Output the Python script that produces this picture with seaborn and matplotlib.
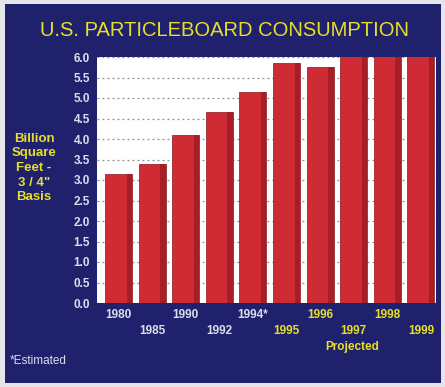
import matplotlib
matplotlib.use("Agg")
import matplotlib.pyplot as plt
import seaborn as sns
import numpy as np
import pandas as pd
from matplotlib.patches import Rectangle

# ---- data ----
years = ["1980", "1985", "1990", "1992", "1994*", "1995", "1996", "1997", "1998", "1999"]
consumption = [3.15, 3.4, 4.1, 4.65, 5.15, 5.85, 5.75, 6.3, 6.5, 6.7]
tick_labels = ["1980", "\n1985", "1990", "\n1992", "1994*", "\n1995", "1996", "\n1997", "1998", "\n1999"]
projected = [False, False, False, False, False, True, True, True, True, True]
yticks = [0.0, 0.5, 1.0, 1.5, 2.0, 2.5, 3.0, 3.5, 4.0, 4.5, 5.0, 5.5, 6.0]

NAVY = "#20216c"
RED = "#cf2b35"
RED_DARK = "#a81e27"
YELLOW = "#e6df2a"
LIGHT = "#dcdcf0"

sns.set_theme(style="white")
plt.rcParams["font.family"] = ["Liberation Sans", "DejaVu Sans"]

W, H = 445, 387
fig = plt.figure(figsize=(W / 100, H / 100), dpi=100, facecolor="#e6e6ea")
fig.patches.append(Rectangle((5 / W, 4 / H), (441 - 5) / W, (383 - 4) / H,
                             transform=fig.transFigure, facecolor=NAVY,
                             edgecolor="none", zorder=-5))

left, right, top, bottom = 97, 436, 57, 303
ax = fig.add_axes([left / W, 1 - bottom / H, (right - left) / W, (bottom - top) / H])
ax.set_zorder(2)
ax.set_facecolor("white")

df = pd.DataFrame({"year": years, "value": consumption})
sns.barplot(data=df, x="year", y="value", order=years, color=RED, saturation=1,
            width=0.8, edgecolor="#8a161d", linewidth=0.5, ax=ax, zorder=3)
# darker right-hand side to hint at the 3D look
pos = np.arange(len(years))
ax.bar(pos + 0.32, consumption, width=0.16, color=RED_DARK, linewidth=0, zorder=4)

ax.set_ylim(0, 6)
ax.set_xlim(-0.64, 9.45)
ax.set_yticks(yticks)
ax.set_yticklabels([f"{v:.1f}" for v in yticks], color=LIGHT, fontsize=8.5,
                   fontweight="bold")
ax.set_xticks(pos)
ax.set_xticklabels(tick_labels, fontsize=8.5, fontweight="bold", linespacing=1.45)
for lbl, p in zip(ax.get_xticklabels(), projected):
    lbl.set_color(YELLOW if p else LIGHT)
    lbl.set_verticalalignment("top")

ax.tick_params(axis="y", direction="in", length=4, width=1, color="#333333", pad=5)
ax.tick_params(axis="x", length=0, pad=4)
ax.yaxis.grid(True, linestyle=(0, (1.5, 2.5)), color="#8c8c8c", linewidth=0.9)
ax.set_axisbelow(True)
ax.set_xlabel("")
ax.set_ylabel("")
for s in ax.spines.values():
    s.set_visible(False)

fig.text(225 / W, 1 - 30 / H, "U.S. PARTICLEBOARD CONSUMPTION", color=YELLOW,
         fontsize=14.5, ha="center", va="center")
fig.text(34 / W, 1 - 168 / H, "Billion\nSquare\nFeet -\n3 / 4\"\nBasis", color=YELLOW,
         fontsize=9.5, fontweight="bold", ha="center", va="center", linespacing=1.3)
fig.text(352 / W, 1 - 347 / H, "Projected", color=YELLOW, fontsize=8.5,
         fontweight="bold", ha="center", va="center")
fig.text(10 / W, 1 - 361 / H, "*Estimated", color=LIGHT, fontsize=8.5,
         ha="left", va="center")

fig.savefig("out.png", dpi=100, facecolor=fig.get_facecolor())
